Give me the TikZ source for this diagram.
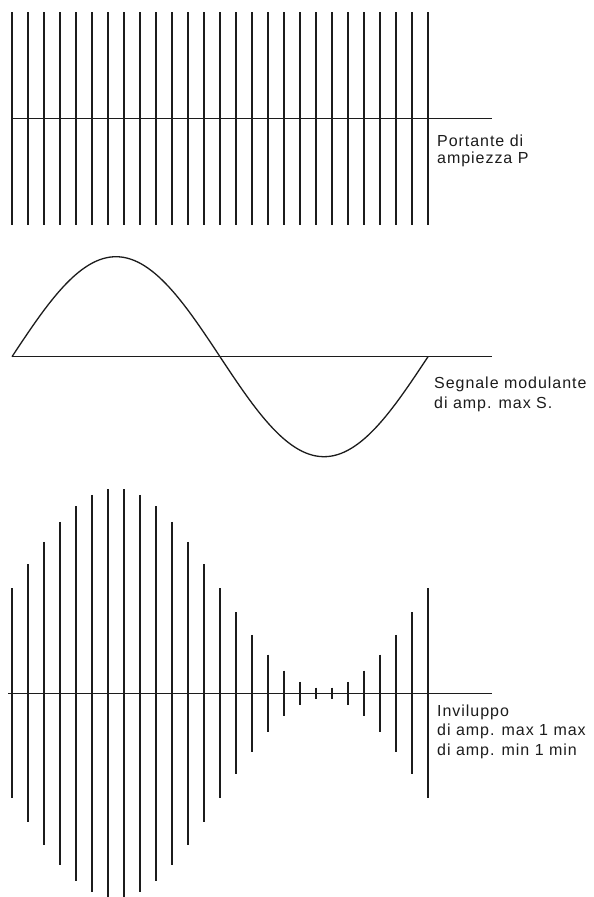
\documentclass[tikz,border=0pt]{standalone}
\usepackage{fontspec}
\setmainfont{Liberation Sans}
\newfontfamily\labelfont[LetterSpace=6]{Liberation Sans}
\usetikzlibrary{positioning}
\definecolor{InkBlack}{HTML}{1C1C1C}
\definecolor{PaperWhite}{HTML}{FFFFFF}

\begin{document}
\begin{tikzpicture}[x=1pt,y=-1pt,
  axisline/.style={draw=InkBlack,line width=1.4pt},
  carrier/.style={draw=InkBlack,line width=1.4pt},
  wave/.style={draw=InkBlack,line width=1.3pt},
  caption/.style={anchor=base west,inner sep=0pt,align=left,text=InkBlack}]
  \fill[PaperWhite] (0,0) rectangle (594,897);
  \useasboundingbox (0,0) rectangle (594,897);
  \clip (0,0) rectangle (594,897);

  % portante
  \foreach \i in {0,...,26}
    \draw[carrier] ({12+16*\i},12) -- ({12+16*\i},225);
  \draw[axisline] (12,118.3) -- (492,118.3);
  \node[caption,font=\labelfont\fontsize{16}{17.3}\selectfont] (portante) at (437,163.3)
    {Portante di\\ampiezza P};

  % segnale modulante
  \draw[axisline] (12,356.7) -- (492,356.7);
  \draw[wave,smooth,domain=12:428,samples=120]
    plot (\x,{356.7-100*sin(0.865385*(\x-12))});
  \node[caption,font=\labelfont\fontsize{16}{20}\selectfont] (segnale) at (434,408.3)
    {Segnale modulante\\di amp. max S.};

  % inviluppo
  \foreach \i in {0,...,26}{
    \pgfmathsetmacro\xx{12+16*\i}
    \pgfmathsetmacro\aa{105+100*sin(0.865385*(\xx-12))}
    \draw[carrier] (\xx,693.3-\aa) -- (\xx,693.3+\aa);
  }
  \draw[axisline] (8,693.3) -- (492,693.3);
  \node[caption,font=\labelfont\fontsize{16}{19.5}\selectfont] (inviluppo) at (437,755)
    {Inviluppo\\di amp. max 1 max\\di amp. min 1 min};
\end{tikzpicture}
\end{document}
